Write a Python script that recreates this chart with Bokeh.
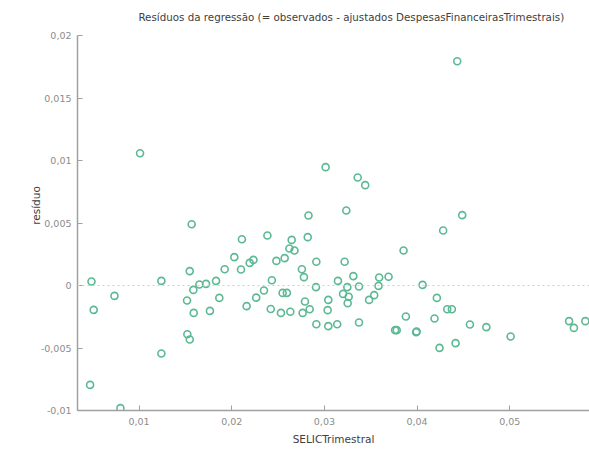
from bokeh.plotting import figure
from bokeh.models import Range1d, FixedTicker, CustomJSTickFormatter, Span, Label
from bokeh.embed import file_html
from bokeh.resources import INLINE

# Regression residuals vs. quarterly SELIC rate
selic = [
    0.00487, 0.01011, 0.01241, 0.01568, 0.01547, 0.01586, 0.01651, 0.01723,
    0.01831, 0.01924, 0.02028, 0.02100, 0.02110, 0.02194, 0.02234, 0.02385,
    0.02348, 0.02433, 0.03013, 0.03359, 0.03440, 0.02828, 0.03236, 0.02647,
    0.02820, 0.02622, 0.02677, 0.04281, 0.03854, 0.02482, 0.02571, 0.02913,
    0.03218, 0.02757, 0.02779, 0.03146, 0.03312, 0.03591, 0.03692, 0.02909,
    0.03247, 0.03373, 0.03584, 0.04059, 0.02549, 0.02595, 0.00735, 0.00511,
    0.01518, 0.01590, 0.01765, 0.01866, 0.02161, 0.02264, 0.02421, 0.01521,
    0.01547, 0.01241, 0.00472, 0.00799, 0.02531, 0.02632, 0.02765, 0.02790,
    0.02841, 0.02913, 0.03042, 0.03035, 0.03042, 0.03138, 0.03201, 0.03262,
    0.03251, 0.03373, 0.03482, 0.03537, 0.03763, 0.03780, 0.03990, 0.03995,
    0.03879, 0.04188, 0.04213, 0.04242, 0.04325, 0.04375, 0.04487, 0.04570,
    0.04747, 0.05009, 0.04415, 0.05640, 0.05692, 0.05815, 0.04433,
]
residuo = [
    0.00032, 0.01058, 0.00037, 0.00490, 0.00115, -0.00035, 0.00008, 0.00013,
    0.00037, 0.00130, 0.00227, 0.00128, 0.00370, 0.00181, 0.00205, 0.00400,
    -0.00040, 0.00042, 0.00947, 0.00864, 0.00803, 0.00560, 0.00600, 0.00365,
    0.00387, 0.00296, 0.00280, 0.00440, 0.00280, 0.00197, 0.00219, 0.00190,
    0.00190, 0.00130, 0.00067, 0.00037, 0.00075, 0.00064, 0.00070, -0.00013,
    -0.00013, -0.00008, -0.00003, 0.00005, -0.00059, -0.00059, -0.00083, -0.00195,
    -0.00120, -0.00219, -0.00203, -0.00099, -0.00165, -0.00097, -0.00188, -0.00390,
    -0.00432, -0.00544, -0.00795, -0.00981, -0.00219, -0.00210, -0.00219, -0.00128,
    -0.00190, -0.00310, -0.00115, -0.00197, -0.00325, -0.00310, -0.00067, -0.00090,
    -0.00141, -0.00296, -0.00115, -0.00077, -0.00357, -0.00357, -0.00373, -0.00368,
    -0.00248, -0.00264, -0.00099, -0.00499, -0.00190, -0.00190, 0.00563, -0.00312,
    -0.00333, -0.00408, -0.00461, -0.00285, -0.00339, -0.00285, 0.01794,
]

x_ticks = [0.01, 0.02, 0.03, 0.04, 0.05]
y_ticks = [-0.01, -0.005, 0, 0.005, 0.01, 0.015, 0.02]

title_text = "Resíduos da regressão (= observados - ajustados DespesasFinanceirasTrimestrais)"

FONT = "DejaVu Sans"
AXIS_GREY = "#a0a0a0"
TICK_TEXT = "#8c8c8c"
POINT = "#5cb994"

# The y range runs a little past 0.02 so the title can sit in the headroom;
# the axis itself is bounded to the data span.
p = figure(
    width=589, height=450,
    output_backend="svg", toolbar_location=None,
    x_range=Range1d(0.00336, 0.0586), y_range=Range1d(-0.01, 0.0228),
    min_border_left=77, min_border_right=0, min_border_top=0, min_border_bottom=40,
)

p.outline_line_color = None
p.xgrid.visible = False
p.ygrid.visible = False

fmt = CustomJSTickFormatter(code="""
    const v = Math.round(tick * 1000) / 1000;
    return v.toString().replace('.', ',');
""")

for ax in (p.xaxis[0], p.yaxis[0]):
    ax.formatter = fmt
    ax.axis_line_color = AXIS_GREY
    ax.axis_line_width = 1.5
    ax.major_tick_line_color = AXIS_GREY
    ax.major_tick_in = 5
    ax.major_tick_out = 0
    ax.minor_tick_line_color = None
    ax.major_label_text_font = FONT
    ax.major_label_text_font_size = "9.5px"
    ax.major_label_text_color = TICK_TEXT
    ax.axis_label_text_font = FONT
    ax.axis_label_text_font_size = "10.5px"
    ax.axis_label_text_font_style = "normal"
    ax.axis_label_text_color = "#404040"

p.yaxis.bounds = (-0.01, 0.02)
p.xaxis.ticker = FixedTicker(ticks=x_ticks)
p.yaxis.ticker = FixedTicker(ticks=y_ticks)
p.xaxis.axis_label = "SELICTrimestral"
p.yaxis.axis_label = "resíduo"
p.xaxis.major_label_standoff = 7
p.yaxis.major_label_standoff = 6
p.yaxis.axis_label_standoff = -4

# chart title
p.add_layout(Label(x=0.0329, y=0.0228, y_offset=-16, text=title_text,
                   text_align="center", text_baseline="middle",
                   text_font=FONT, text_font_size="10.3px", text_color="#404040"))

# zero reference line
p.add_layout(Span(location=0, dimension="width", line_color="#cfcfcf",
                  line_dash="2 3", line_width=1.2))

p.scatter(selic, residuo, marker="circle", size=7, line_color=POINT,
          line_width=1.6, fill_color="white", fill_alpha=0)

open("out.html", "w").write(file_html(p, INLINE))
